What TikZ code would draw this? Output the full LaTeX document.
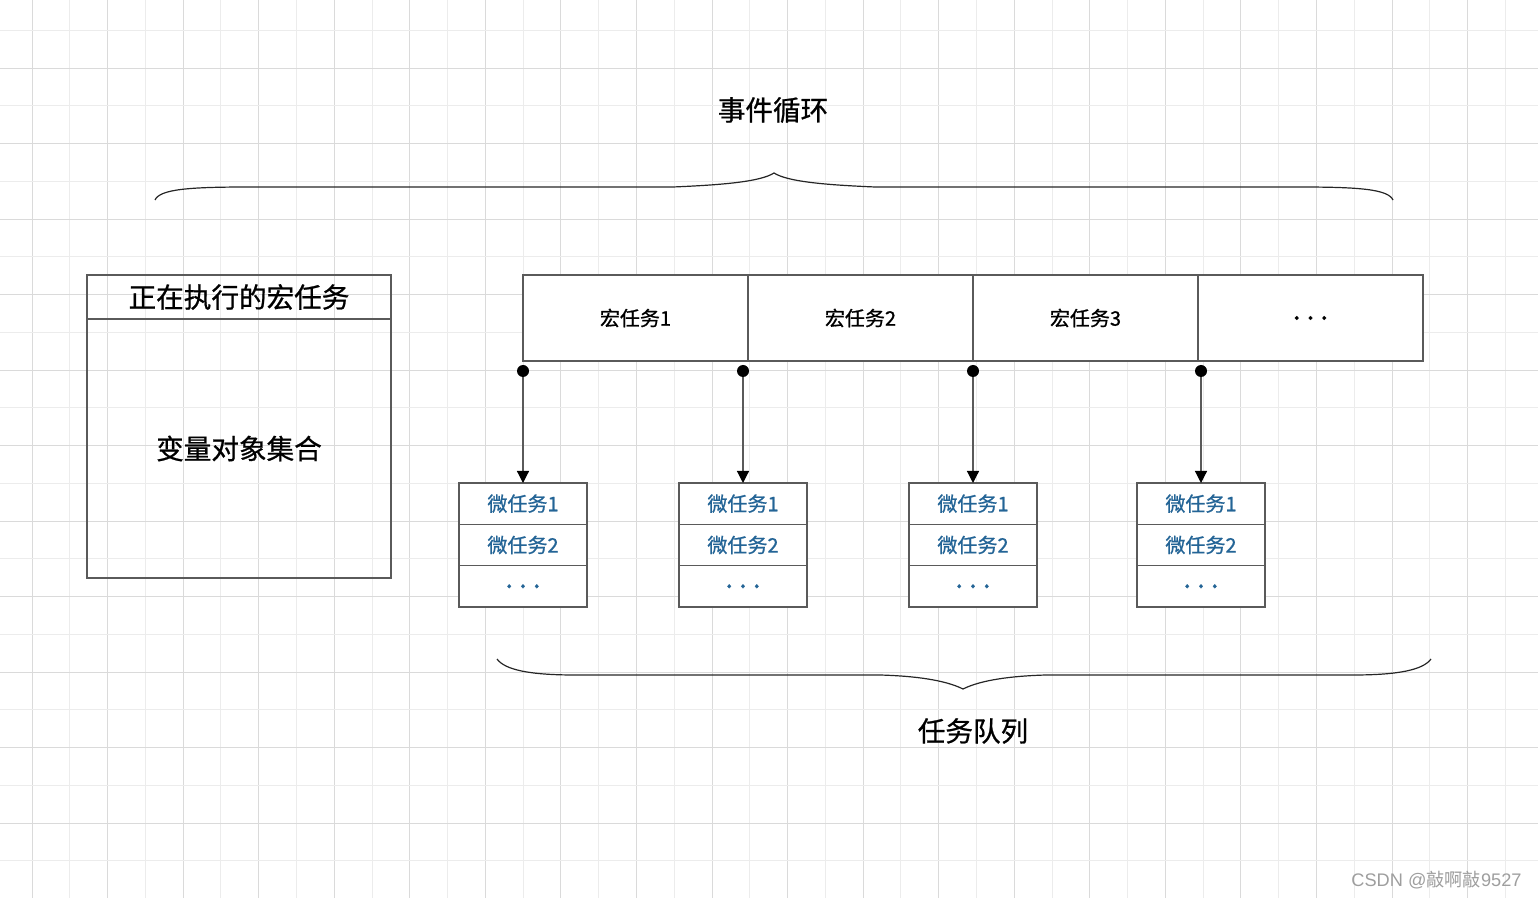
\documentclass[tikz,border=0pt]{standalone}
\usepackage{fontspec}
\setmainfont{Noto Sans CJK SC}[UprightFeatures={FakeBold=0.8}]
\newfontfamily\wmfont{Liberation Sans}
\newfontfamily\wmcjk{Noto Sans CJK SC}
\usetikzlibrary{arrows.meta}
\definecolor{linha}{RGB}{90,90,90}
\definecolor{azul}{RGB}{35,100,150}
\definecolor{gradeA}{RGB}{218,218,218}
\definecolor{gradeB}{RGB}{236,236,236}
\begin{document}
\begin{tikzpicture}[x=0.5pt, y=-0.5pt,
    grande/.style={font=\fontsize{13.8}{16}\selectfont},
    macro/.style={draw=linha, line width=0.6pt, fill=white, inner sep=0pt, outer sep=0pt,
      minimum width=112.5pt, minimum height=43pt, font=\fontsize{10}{12}\selectfont},
    micro/.style={draw=linha, line width=0.6pt, fill=white, inner sep=0pt, outer sep=0pt,
      minimum width=64pt, minimum height=20.67pt, text=azul, font=\fontsize{10}{12}\selectfont},
    reticencias/.style={font=\fontsize{14}{14}\selectfont},
    ponto/.style={fill, circle, inner sep=0pt, minimum size=6pt},
    seta/.style={draw=linha, line width=0.6pt, -{Triangle[width=6pt,length=6pt,color=black]}},
    chave/.style={draw=black!85, line width=0.6pt}]
  \useasboundingbox (0,0) rectangle (1538,898);

  % Grade de fundo
  \foreach \j in {0,...,19} \draw[gradeB, line width=0.5pt] ({69.78+75.56*\j},0) -- ++(0,898);
  \foreach \j in {0,...,19} \draw[gradeA, line width=0.5pt] ({32+75.56*\j},0) -- ++(0,898);
  \foreach \j in {0,...,11} \draw[gradeB, line width=0.5pt] (0,{30.3+75.5*\j}) -- ++(1538,0);
  \foreach \j in {0,...,10} \draw[gradeA, line width=0.5pt] (0,{68.05+75.5*\j}) -- ++(1538,0);

  % Titulo e chave de cima
  \node[grande] (laco) at (773,110) {事件循环};
  \draw[chave] (155,200) .. controls (160,189) and (190,187) .. (250,187) -- (673,187)
    .. controls (720,185) and (760,182) .. (774,173)
    .. controls (788,182) and (828,185) .. (875,187) -- (1298,187)
    .. controls (1358,187) and (1388,189) .. (1393,200);

  % Macrotarefa em execucao
  \node[draw=linha, line width=0.6pt, inner sep=0pt, outer sep=0pt, minimum width=152pt,
    minimum height=22pt, grande] (atual) at (239,297) {正在执行的宏任务};
  \node[draw=linha, line width=0.6pt, inner sep=0pt, outer sep=0pt, minimum width=152pt,
    minimum height=129.5pt, grande] (vars) at (239,448.5) {变量对象集合};

  % Fila de macrotarefas
  \node[macro] (mac1) at (635.5,318) {宏任务1};
  \node[macro] (mac2) at (860.5,318) {宏任务2};
  \node[macro] (mac3) at (1085.5,318) {宏任务3};
  \node[macro, reticencias] (mac4) at (1310.5,318) {.\hspace{3pt}.\hspace{3pt}.};

  % Pontos de ligacao
  \node[ponto] (d1) at (523,371) {};
  \node[ponto] (d2) at (743,371) {};
  \node[ponto] (d3) at (973,371) {};
  \node[ponto] (d4) at (1201,371) {};

  % Microtarefas de cada macrotarefa
  \node[micro] (u11) at (523,503.67) {微任务1};
  \node[micro] (u12) at (523,545) {微任务2};
  \node[micro, reticencias] (u13) at (523,586.33) {.\hspace{3pt}.\hspace{3pt}.};
  \node[micro] (u21) at (743,503.67) {微任务1};
  \node[micro] (u22) at (743,545) {微任务2};
  \node[micro, reticencias] (u23) at (743,586.33) {.\hspace{3pt}.\hspace{3pt}.};
  \node[micro] (u31) at (973,503.67) {微任务1};
  \node[micro] (u32) at (973,545) {微任务2};
  \node[micro, reticencias] (u33) at (973,586.33) {.\hspace{3pt}.\hspace{3pt}.};
  \node[micro] (u41) at (1201,503.67) {微任务1};
  \node[micro] (u42) at (1201,545) {微任务2};
  \node[micro, reticencias] (u43) at (1201,586.33) {.\hspace{3pt}.\hspace{3pt}.};

  % Setas
  \draw[seta] (d1) -- (u11.north);
  \draw[seta] (d2) -- (u21.north);
  \draw[seta] (d3) -- (u31.north);
  \draw[seta] (d4) -- (u41.north);

  % Chave de baixo e rotulo
  \draw[chave] (497,659) .. controls (505,670) and (530,675) .. (575,675) -- (880,675)
    .. controls (915,676) and (945,680) .. (963,689)
    .. controls (981,680) and (1011,676) .. (1046,675) -- (1353,675)
    .. controls (1398,675) and (1423,670) .. (1431,659);
  \node[grande] (fila) at (973,731) {任务队列};

  % Marca d'agua
  \node[anchor=east, text=black!38, inner sep=0pt, font=\fontsize{9.1}{11}\selectfont] (marca) at (1522,880)
    {\wmfont CSDN @\wmcjk 敲啊敲\wmfont 9527};
\end{tikzpicture}
\end{document}
